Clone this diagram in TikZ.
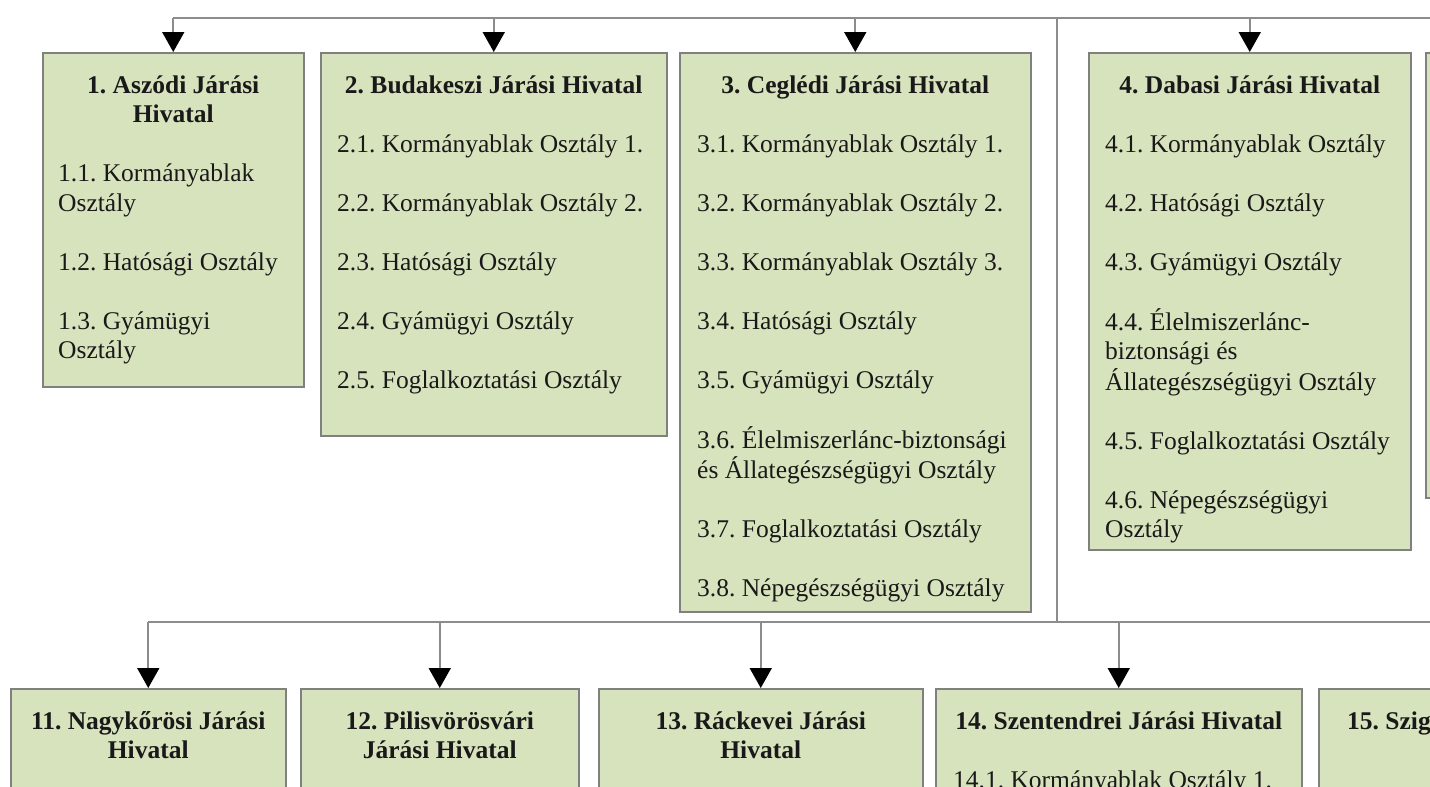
\documentclass[tikz,border=0pt]{standalone}
\usepackage{fontspec}
\setmainfont{Liberation Serif}
\usetikzlibrary{arrows.meta}
\definecolor{dobozzold}{RGB}{215,227,189}
\definecolor{keret}{RGB}{128,128,128}
\definecolor{vonalszurke}{RGB}{140,140,140}
\definecolor{betu}{RGB}{25,25,25}
\newcommand{\sorok}[1]{\begin{tabular}[t]{@{}l@{}}#1\end{tabular}}
\newcommand{\cimsorok}[1]{\begin{tabular}[t]{@{}c@{}}#1\end{tabular}}
\tikzset{
  hivatal/.style={draw=keret, fill=dobozzold, line width=1.5pt, inner sep=0pt, anchor=north west},
  cim/.style={font=\frenchspacing\bfseries\fontsize{25.5}{29.5}\selectfont, anchor=base, text=betu, inner sep=0pt},
  osztalyok/.style={font=\frenchspacing\fontsize{25.5}{29.5}\selectfont, anchor=base west, text=betu, inner sep=0pt},
  vonal/.style={draw=vonalszurke, line width=1.8pt},
  nyil/.style={vonal, -{Triangle[length=20pt, width=22pt, color=black]}}
}
\begin{document}
\begin{tikzpicture}[x=1pt,y=-1pt]
\useasboundingbox (0,0) rectangle (1430,787);
\clip (0,0) rectangle (1430,787);

\node[hivatal, minimum width=261, minimum height=334] (h1) at (42,52) {};
\node[hivatal, minimum width=346, minimum height=383] (h2) at (320,52) {};
\node[hivatal, minimum width=351, minimum height=559] (h3) at (679,52) {};
\node[hivatal, minimum width=322, minimum height=497] (h4) at (1088,52) {};
\node[hivatal, minimum width=60, minimum height=445] (h5) at (1425,52) {};

\node[hivatal, minimum width=275, minimum height=200] (h11) at (10,688) {};
\node[hivatal, minimum width=278, minimum height=200] (h12) at (300,688) {};
\node[hivatal, minimum width=324, minimum height=200] (h13) at (598,688) {};
\node[hivatal, minimum width=366, minimum height=200] (h14) at (935,688) {};
\node[hivatal, minimum width=200, minimum height=200] (h15) at (1318,688) {};

\node[cim] (c1) at ([yshift=-41pt]h1.north) {\cimsorok{1. Aszódi Járási\\Hivatal}};
\node[osztalyok] (o1) at ([xshift=16pt,yshift=-129.5pt]h1.north west) {\sorok{1.1. Kormányablak\\Osztály\\[29.5pt]1.2. Hatósági Osztály\\[29.5pt]1.3. Gyámügyi\\Osztály}};

\node[cim] (c2) at ([yshift=-41pt]h2.north) {2. Budakeszi Járási Hivatal};
\node[osztalyok] (o2) at ([xshift=17pt,yshift=-100pt]h2.north west) {\sorok{2.1. Kormányablak Osztály 1.\\[29.5pt]2.2. Kormányablak Osztály 2.\\[29.5pt]2.3. Hatósági Osztály\\[29.5pt]2.4. Gyámügyi Osztály\\[29.5pt]2.5. Foglalkoztatási Osztály}};

\node[cim] (c3) at ([yshift=-41pt]h3.north) {3. Ceglédi Járási Hivatal};
\node[osztalyok] (o3) at ([xshift=18pt,yshift=-100pt]h3.north west) {\sorok{3.1. Kormányablak Osztály 1.\\[29.5pt]3.2. Kormányablak Osztály 2.\\[29.5pt]3.3. Kormányablak Osztály 3.\\[29.5pt]3.4. Hatósági Osztály\\[29.5pt]3.5. Gyámügyi Osztály\\[29.5pt]3.6. Élelmiszerlánc-biztonsági\\és Állategészségügyi Osztály\\[29.5pt]3.7. Foglalkoztatási Osztály\\[29.5pt]3.8. Népegészségügyi Osztály}};

\node[cim] (c4) at ([yshift=-41pt]h4.north) {4. Dabasi Járási Hivatal};
\node[osztalyok] (o4) at ([xshift=17pt,yshift=-100pt]h4.north west) {\sorok{4.1. Kormányablak Osztály\\[29.5pt]4.2. Hatósági Osztály\\[29.5pt]4.3. Gyámügyi Osztály\\[29.5pt]4.4. Élelmiszerlánc-\\biztonsági és\\Állategészségügyi Osztály\\[29.5pt]4.5. Foglalkoztatási Osztály\\[29.5pt]4.6. Népegészségügyi\\Osztály}};

\node[cim] (c11) at ([yshift=-41pt]h11.north) {\cimsorok{11. Nagykőrösi Járási\\Hivatal}};
\node[cim] (c12) at ([yshift=-41pt]h12.north) {\cimsorok{12. Pilisvörösvári\\Járási Hivatal}};
\node[cim] (c13) at ([yshift=-41pt]h13.north) {\cimsorok{13. Ráckevei Járási\\Hivatal}};
\node[cim] (c14) at ([yshift=-41pt]h14.north) {14. Szentendrei Járási Hivatal};
\node[osztalyok] (o14) at ([xshift=18pt,yshift=-100pt]h14.north west) {14.1. Kormányablak Osztály 1.};
\node[cim, anchor=base west] (c15) at ([xshift=29pt,yshift=-41pt]h15.north west) {15. Szig};

\coordinate (felso) at (0,18);
\coordinate (also) at (0,622);
\coordinate (jobb) at (1430,0);
\coordinate (ag) at (1057,0);

\draw[vonal] (h1.north |- felso) -- (felso -| jobb);
\draw[vonal] (ag |- felso) -- (ag |- also);
\draw[vonal] (h11.north |- also) -- (also -| jobb);

\draw[nyil] (h1.north |- felso) -- (h1.north);
\draw[nyil] (h2.north |- felso) -- (h2.north);
\draw[nyil] (h3.north |- felso) -- (h3.north);
\draw[nyil] (h4.north |- felso) -- (h4.north);

\draw[nyil] (h11.north |- also) -- (h11.north);
\draw[nyil] (h12.north |- also) -- (h12.north);
\draw[nyil] (h13.north |- also) -- (h13.north);
\draw[nyil] (h14.north |- also) -- (h14.north);
\end{tikzpicture}
\end{document}
